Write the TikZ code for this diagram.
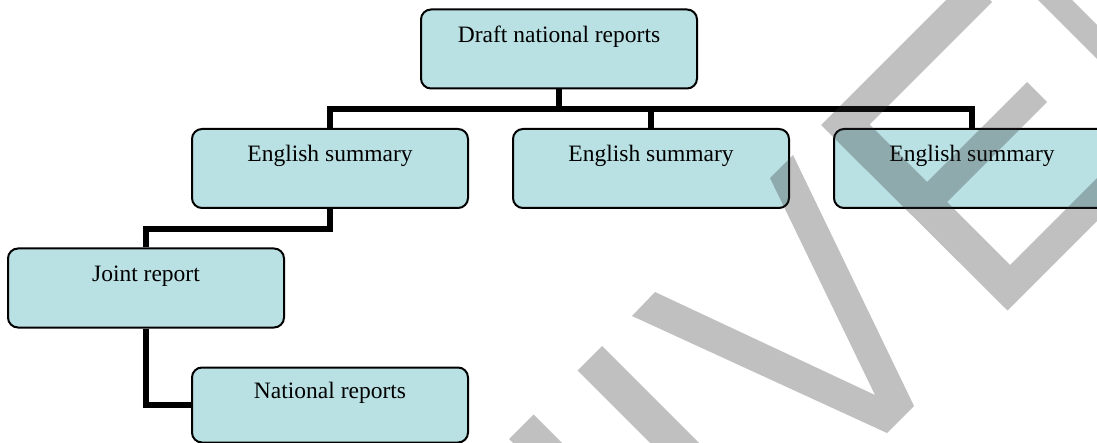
\documentclass[tikz,border=0pt]{standalone}
\usepackage{fontspec}
\setmainfont{Liberation Serif}
\usetikzlibrary{positioning}
\definecolor{boxfill}{RGB}{185,224,227}

\begin{document}
\begin{tikzpicture}[x=0.5pt,y=-0.5pt,node distance=160.5pt,
  box/.style={draw,line width=1pt,rounded corners=5pt,fill=boxfill,
    minimum width=138pt,minimum height=39.5pt,text height=8pt,text depth=14.5pt,
    font=\fontsize{11.75}{14}\selectfont},
  link/.style={line width=3pt},
  wmark/.style={fill=black!82,fill opacity=0.3}]

\useasboundingbox (0,0) rectangle (1097,443);
\clip (0,0) rectangle (1097,443);

\node[box]   (draft) at (559,49)       {Draft national reports};
\node[box]   (eng1)  at (330,168.5)    {English summary};
\node[box]   (eng2)  [right of=eng1]   {English summary};
\node[box]   (eng3)  [right of=eng2]   {English summary};
\node[box]   (joint) at (146,288)      {Joint report};
\node[box,minimum height=37.5pt] (nat) at (330,405) {National reports};

\draw[link] (draft.south) -- ++(0,20) -| (eng1.north);
\draw[link] (draft.south) -- ++(0,20) -| (eng2.north);
\draw[link] (draft.south) -- ++(0,20) -| (eng3.north);
\draw[link] (eng1.south)  -- ++(0,20) -| (joint.north);
\draw[link] (joint.south) |- (nat.west);

% watermark
\fill[wmark] (509,439) -- (533.5,414.5) -- (718.5,599.5) -- (694,624) -- cycle;
\fill[wmark] (577.5,370.5) -- (602,346) -- (787,531) -- (762.5,555.5) -- cycle;
\fill[wmark] (632,316) -- (887,433) -- (914,406) -- (793,155) -- (770,178)
  -- (875,395) -- (655,292) -- cycle;
\fill[wmark] (821,125) -- (968,-22) -- (992,2) -- (869.5,124.5) -- (927,182)
  -- (1027,82) -- (1047,102) -- (947,202) -- (1010,265) -- (1132.5,142.5)
  -- (1154,164) -- (1007.5,310.5) -- cycle;
\fill[wmark] (992,-46) -- (1009,-63) -- (1195,123) -- (1178,140) -- cycle;

\end{tikzpicture}
\end{document}
